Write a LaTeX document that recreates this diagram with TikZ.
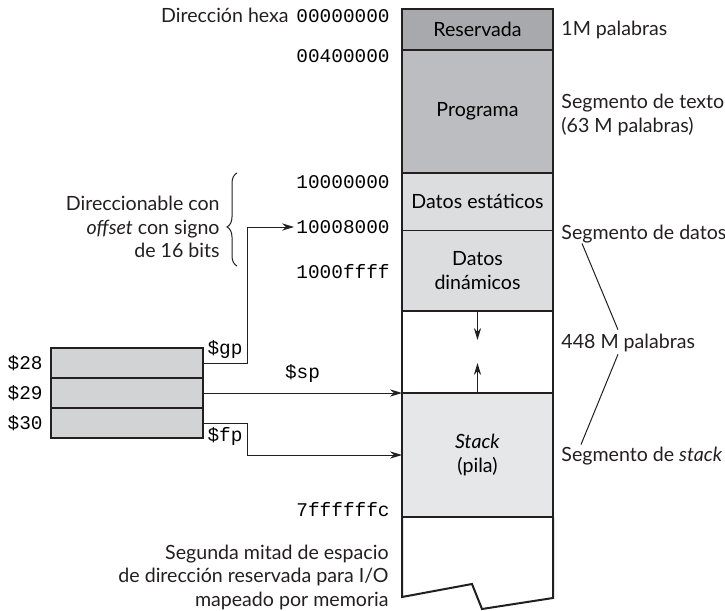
\documentclass[tikz,border=0pt]{standalone}
\usepackage{fontspec}
\setmainfont{Lato}
\setmonofont{Liberation Mono}
\usetikzlibrary{arrows.meta,calc,positioning,decorations.pathreplacing}
\definecolor{ink}{HTML}{231F20}
\definecolor{resgray}{HTML}{A7A9AC}
\definecolor{proggray}{HTML}{BCBDC0}
\definecolor{datgray}{HTML}{DCDDDE}
\definecolor{stkgray}{HTML}{E6E7E8}
\definecolor{reggray}{HTML}{D1D3D4}

\begin{document}
\begin{tikzpicture}[x=0.5pt,y=-0.5pt,>={Stealth[length=6pt,width=3.6pt]},node distance=0pt,
  seg/.style={minimum width=75.5pt,outer sep=0pt,inner sep=0pt,align=center,font=\fontsize{9.8}{12}\selectfont},
  frame/.style={draw=ink,line width=1pt},
  hexlbl/.style={anchor=east,font=\ttfamily\fontsize{9.7}{11}\selectfont,inner sep=0pt},
  txt/.style={font=\fontsize{9.8}{11.75}\selectfont,inner sep=0pt,text=ink},
  reg/.style={draw=ink,fill=reggray,line width=0.6pt,minimum width=76pt,minimum height=15pt,outer sep=0pt,inner sep=0pt},
  wire/.style={draw=ink,line width=0.5pt}]
\useasboundingbox (0,0) rectangle (725,611);

% memory column
\node[seg,frame,fill=resgray,minimum height=20.5pt] (res) at (477.5,29.5) {Reservada};
\node[seg,frame,fill=proggray,minimum height=61.5pt,below=of res] (prog) {Programa};
\node[seg,fill=datgray,minimum height=28.5pt,below=of prog] (est) {Datos estáticos};
\node[seg,fill=datgray,minimum height=40.5pt,below=of est] (din) {Datos\\dinámicos};
\draw[frame] (est.north west) rectangle (din.south east);
\draw[ink,line width=0.5pt] (est.south west) -- (est.south east);
\node[seg,frame,minimum height=41pt,below=of din] (gap) {};
\node[seg,frame,fill=stkgray,minimum height=62pt,below=of gap] (stk) {\textit{Stack}\\(pila)};
\draw[frame,line join=miter] (stk.south west) -- ++(0,80) -- ++(70,-13) -- ++(10,25) -- ++(71,-11) -- (stk.south east);
\draw[wire,->,shorten >=6pt] (din.south) -- (gap.center);
\draw[wire,->,shorten >=5.5pt] (stk.north) -- (gap.center);

% addresses
\node[hexlbl] (h0) at (390,16) {00000000};
\node[txt,anchor=base east] (hexa) at ($(h0.base west)+(-7,0)$) {Dirección hexa};
\node[hexlbl] (h4) at (390,56) {00400000};
\node[hexlbl] (h1) at (390,182) {10000000};
\node[hexlbl] (h8) at (390,227) {10008000};
\node[hexlbl] (hf) at (390,272) {1000ffff};
\node[hexlbl] (h7) at (390,510) {7ffffffc};

% offset brace
\node[txt,align=right,anchor=east] (offs) at (220,227) {Direccionable con\\\textit{offset} con signo\\de 16 bits};
\draw[ink,line width=0.5pt,decorate,decoration={brace,amplitude=5pt,aspect=0.42}] (237,266) -- (237,173);

% registers
\node[reg] (r28) at (127,363) {};
\node[reg,below=of r28] (r29) {};
\node[reg,below=of r29] (r30) {};
\node[hexlbl,left=4pt of r28] (n28) {\$28};
\node[hexlbl,left=4pt of r29] (n29) {\$29};
\node[hexlbl,left=4pt of r30] (n30) {\$30};
\draw[wire,->,shorten >=1pt] (r28.east) -- node[hexlbl,anchor=south,inner sep=2pt] (gp) {\$gp} ++(44,0) |- (h8.west);
\draw[wire,->] (r29.east) -- node[hexlbl,anchor=south,inner sep=5pt] (sp) {\$sp} (stk.north west);
\draw[wire,->] (r30.east) -- node[hexlbl,anchor=north,inner sep=2pt] (fp) {\$fp} ++(44,0) |- (stk.west);

% segment labels
\node[txt,anchor=west] (l1m) at (561,30) {1M palabras};
\node[txt,anchor=west,align=left] (ltxt) at (561,115) {Segmento de texto\\(63 M palabras)};
\node[txt,anchor=west] (ldat) at (561,234) {Segmento de datos};
\node[txt,anchor=west] (l448) at (561,343) {448 M palabras};
\node[txt,anchor=west] (lstk) at (561,456) {Segmento de \textit{stack}};
\draw[wire] ($(ldat.south west)+(21,0)$) -- ($(l448.north west)+(57,-4)$);
\draw[wire] ($(l448.south west)+(57,2)$) -- ($(lstk.north west)+(20,-2)$);

% io note
\node[txt,align=right,anchor=east] (io) at (389,577) {Segunda mitad de espacio\\de dirección reservada para I/O\\mapeado por memoria};
\end{tikzpicture}
\end{document}
